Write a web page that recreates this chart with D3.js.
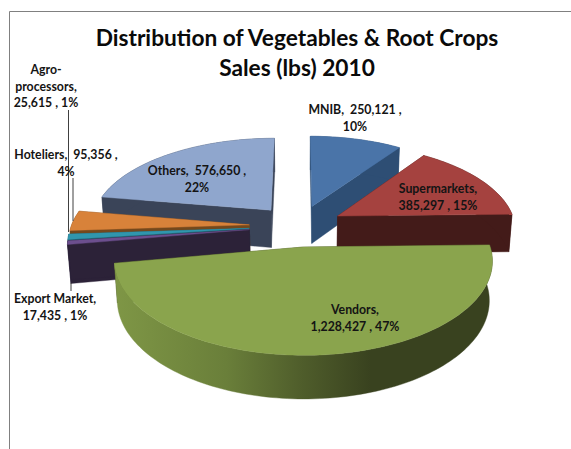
<!DOCTYPE html>
<html><head><meta charset="utf-8">
<script src="https://cdn.jsdelivr.net/npm/d3@7"></script>
<style>html,body{margin:0;padding:0;background:#fff}svg{display:block}text{font-family:Lato,"Open Sans",sans-serif;font-weight:700}</style>
</head><body><div id="c"></div>
<script>
const titleLines = ["Distribution of Vegetables & Root Crops", "Sales (lbs) 2010"];
const categories = ["MNIB", "Supermarkets", "Vendors", "Export Market", "Agro-processors", "Hoteliers", "Others"];
const values = [250121, 385297, 1228427, 17435, 25615, 95356, 576650];
const percents = ["10%", "15%", "47%", "1%", "1%", "4%", "22%"];
const topColors = ["#4a74a8", "#a5423f", "#8aa44d", "#6c4f8e", "#3096ad", "#d8823a", "#8fa6cd"];
const sideColors = ["#2e4e74", "#431b19", "url(#vendorSide)", "#2c2238", "#1d5a68", "#74481c", "#3a4458"];
const explodes = [0.25, 0.25, 0.24, 0.28, 0.28, 0.28, 0.25];
const radii = [1, 1, 1.015, 1, 1, 1, 1.015];
const drawOrder = [6, 0, 1, 5, 4, 3, 2];
const labelAnchors = [[355, 110], [438, 189], [355, 310], [55, 299], [46, 70], [66, 155], [197, 171]];

const W = 571, H = 449;
const cx = 299, cy = 226, A = 178, B = 85, D = 38.6, persp = 0.14, zPersp = 0.015;

const fmt = d3.format(",");
const labelLines = [
  [`${categories[0]},  ${fmt(values[0])} ,`, percents[0]],
  [`${categories[1]},`, `${fmt(values[1])} , ${percents[1]}`],
  [`${categories[2]},`, `${fmt(values[2])} , ${percents[2]}`],
  [`${categories[3]},`, `${fmt(values[3])} , ${percents[3]}`],
  ["Agro-", "processors,", `${fmt(values[4])} , ${percents[4]}`],
  [`${categories[5]},  ${fmt(values[5])} ,`, percents[5]],
  [`${categories[6]},  ${fmt(values[6])} ,`, percents[6]]
];

const svg = d3.select("#c").append("svg").attr("width", W).attr("height", H);
svg.append("rect").attr("width", W).attr("height", H).attr("fill", "#fff");

const grad = svg.append("defs").append("linearGradient").attr("id", "vendorSide")
  .attr("gradientUnits", "userSpaceOnUse").attr("x1", 112).attr("x2", 492).attr("y1", 0).attr("y2", 0);
[[0, "#7f9746"], [0.3, "#6a7f3a"], [0.5, "#4f5d2b"], [0.68, "#39421f"], [1, "#39421f"]]
  .forEach(([o, c]) => grad.append("stop").attr("offset", o).attr("stop-color", c));

// frame
svg.append("path").attr("d", "M9.5,449V11.5H571").attr("fill", "none").attr("stroke", "#808080").attr("stroke-width", 1);

const arcs = d3.pie().sort(null).startAngle(0).endAngle(2 * Math.PI)(values);

function project(X, Y, z) {
  const w = 1 + persp * Y + zPersp * z;
  return [cx + A * X / w, cy - (B * Y - D * z) / w];
}
function slicePoint(a, r, mid, e, z) {
  const X = r * Math.sin(a) + e * Math.sin(mid);
  const Y = r * Math.cos(a) + e * Math.cos(mid);
  return project(X, Y, z);
}
const line = d3.line();

const g = svg.append("g");
drawOrder.forEach(i => {
  const d = arcs[i], mid = (d.startAngle + d.endAngle) / 2, e = explodes[i], r = radii[i];
  const n = Math.max(2, Math.ceil((d.endAngle - d.startAngle) * 40));
  const angles = d3.range(n + 1).map(k => d.startAngle + (d.endAngle - d.startAngle) * k / n);
  const top = angles.map(a => slicePoint(a, r, mid, e, 0));
  const bottom = angles.map(a => slicePoint(a, r, mid, e, 1));
  const apexT = slicePoint(0, 0, mid, e, 0), apexB = slicePoint(0, 0, mid, e, 1);
  const side = sideColors[i];
  const paint = (pts, fill) => g.append("path").attr("d", line(pts) + "Z").attr("fill", fill).attr("stroke", fill).attr("stroke-width", 0.4);
  paint([apexT, top[0], bottom[0], apexB], i === 2 ? "#39421f" : side);
  paint([apexT, top[n], bottom[n], apexB], i === 2 ? "#39421f" : side);
  paint(top.concat(bottom.slice().reverse()), side);
  paint([apexT, ...top], topColors[i]);
});

// leader lines
const leader = (x, y1, y2) => svg.append("line").attr("x1", x).attr("x2", x).attr("y1", y1).attr("y2", y2)
  .attr("stroke", "#404040").attr("stroke-width", 1);
leader(68.5, 232, 110);
leader(73, 221, 178);
leader(71, 283, 291);

// labels
const lab = svg.append("g").attr("font-size", 12.3).attr("fill", "#141414").attr("text-anchor", "middle");
labelLines.forEach((lines, i) => {
  lines.forEach((t, k) => lab.append("text").attr("x", labelAnchors[i][0]).attr("y", labelAnchors[i][1] + 4 + k * 16.5).style("white-space", "pre").text(t));
});
// title
titleLines.forEach((t, k) => svg.append("text").attr("x", 297).attr("y", 45.5 + k * 30).attr("text-anchor", "middle").attr("font-size", 22.7).attr("fill", "#0a0a0a").text(t));
</script></body></html>
